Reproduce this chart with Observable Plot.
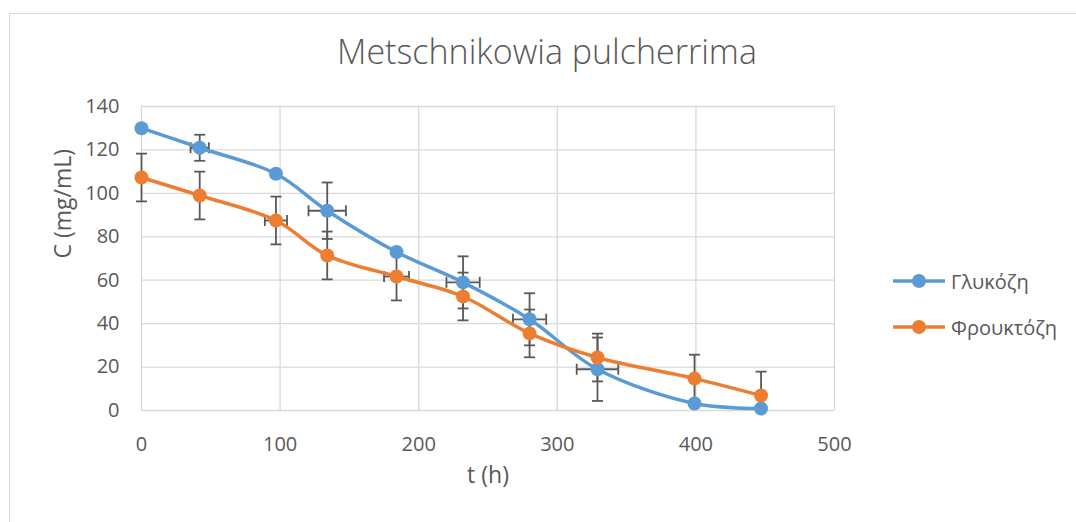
<!DOCTYPE html>
<html>
<head>
<meta charset="utf-8">
<script src="https://cdn.jsdelivr.net/npm/d3@7"></script>
<script src="https://cdn.jsdelivr.net/npm/@observablehq/plot@0.6"></script>
<style>
  body { margin: 0; background: #fff; }
  #wrap { position: relative; width: 1076px; height: 522px; overflow: hidden; font-family: "Open Sans", sans-serif; color: #595959; background: #fff; }
  #frame { position: absolute; left: 9px; top: 13px; width: 1200px; height: 700px; border: 1px solid #d9d9d9; box-sizing: border-box; }
  #chart { position: absolute; left: 0; top: 0; }
  #title { position: absolute; left: 0; width: 1094px; top: 34px; text-align: center; font-size: 34px; line-height: 34px; font-weight: 300; white-space: nowrap; }
  .leg { position: absolute; left: 893px; height: 24px; display: flex; align-items: center; font-size: 20px; white-space: nowrap; }
  .leg svg { margin-right: 6px; }
</style>
</head>
<body>
<div id="wrap">
  <div id="frame"></div>
  <div id="chart"></div>
  <div id="title">Metschnikowia pulcherrima</div>
  <div id="legend"></div>
</div>
<script>
// ---- data ----
const timeH = [0, 42, 97, 134, 184, 232, 280, 329, 399, 447];
const glucose = [130, 121, 109, 92, 73, 59, 42, 19, 3.2, 0.9];
const fructose = [107.3, 99, 87.5, 71.4, 61.7, 52.5, 35.5, 24.4, 14.7, 6.9];
const glucoseErrC = [0, 6, 1.5, 13, 1.5, 12, 12, 14.6, 0.5, 0.5];
const fructoseErrC = [11, 11, 11, 11, 11, 11, 11, 11, 11, 11];
const glucoseErrT = [0, 6.6, 2, 13.5, 2, 12, 12, 15, 0, 0];
const fructoseErrT = [0, 0, 8, 0, 9, 0, 0, 0, 0, 0];
const seriesNames = ["Γλυκόζη", "Φρουκτόζη"];
const seriesColors = ["#5B9BD5", "#ED7D31"];
const xTicks = [0, 100, 200, 300, 400, 500];
const yTicks = [0, 20, 40, 60, 80, 100, 120, 140];
const titleText = "Metschnikowia pulcherrima";
const xLabel = "t (h)";
const yLabel = "C (mg/mL)";

const seriesData = [
  {name: seriesNames[0], color: seriesColors[0], c: glucose, ec: glucoseErrC, et: glucoseErrT},
  {name: seriesNames[1], color: seriesColors[1], c: fructose, ec: fructoseErrC, et: fructoseErrT}
];
const rows = seriesData.flatMap(s => timeH.map((t, i) => ({series: s.name, color: s.color, t, c: s.c[i], ec: s.ec[i], et: s.et[i]})));

const hcap = {draw(ctx, size) { const r = Math.sqrt(size / Math.PI); ctx.moveTo(-r, 0); ctx.lineTo(r, 0); }};
const vcap = {draw(ctx, size) { const r = Math.sqrt(size / Math.PI); ctx.moveTo(0, -r); ctx.lineTo(0, r); }};

const errColor = "#595959";
const vErr = rows.filter(d => d.ec > 0);
const hErr = rows.filter(d => d.et > 0);
const topCaps = vErr.map(d => ({t: d.t, y: d.c + d.ec}));
const botCaps = vErr.filter(d => d.c - d.ec >= 0).map(d => ({t: d.t, y: d.c - d.ec}));
const sideCaps = hErr.flatMap(d => [{x: d.t - d.et, c: d.c}, {x: d.t + d.et, c: d.c}]);

const seriesMarks = seriesData.flatMap(s => {
  const data = rows.filter(d => d.series === s.name);
  return [
    Plot.line(data, {x: "t", y: "c", stroke: s.color, strokeWidth: 3.5, curve: "catmull-rom"}),
    Plot.dot(data, {x: "t", y: "c", fill: s.color, r: 7})
  ];
});

const plot = Plot.plot({
  width: 1076,
  height: 522,
  marginLeft: 141,
  marginRight: 242,
  marginTop: 106,
  marginBottom: 112,
  style: {fontFamily: "'Open Sans', sans-serif", fontSize: "20px", color: "#595959", background: "transparent"},
  x: {domain: [0, 500], ticks: xTicks, tickSize: 0, tickPadding: 26, label: null},
  y: {domain: [0, 140], ticks: yTicks, tickSize: 0, tickPadding: 22, label: null},
  marks: [
    Plot.ruleY(yTicks, {y: d => d, stroke: "#d9d9d9", strokeWidth: 1.3}),
    Plot.ruleX(xTicks, {x: d => d, stroke: "#d9d9d9", strokeWidth: 1.3}),
    Plot.ruleX(vErr, {x: "t", y1: d => Math.max(0, d.c - d.ec), y2: d => d.c + d.ec, stroke: errColor, strokeWidth: 1.8}),
    Plot.dot(topCaps, {x: "t", y: "y", symbol: hcap, r: 5.5, fill: "none", stroke: errColor, strokeWidth: 1.8}),
    Plot.dot(botCaps, {x: "t", y: "y", symbol: hcap, r: 5.5, fill: "none", stroke: errColor, strokeWidth: 1.8}),
    Plot.ruleY(hErr, {y: "c", x1: d => d.t - d.et, x2: d => d.t + d.et, stroke: errColor, strokeWidth: 1.8}),
    Plot.dot(sideCaps, {x: "x", y: "c", symbol: vcap, r: 5.5, fill: "none", stroke: errColor, strokeWidth: 1.8}),
    ...seriesMarks,
    Plot.text([xLabel], {frameAnchor: "bottom", dy: 72, text: d => d, fontSize: 23, fill: "#595959"}),
    Plot.text([yLabel], {frameAnchor: "left", dx: -78, rotate: -90, text: d => d, fontSize: 23, fill: "#595959"})
  ]
});
document.getElementById("chart").appendChild(plot);
document.getElementById("title").textContent = titleText;

const legend = document.getElementById("legend");
seriesData.forEach((s, i) => {
  const div = document.createElement("div");
  div.className = "leg";
  div.style.top = (269 + i * 46) + "px";
  div.innerHTML = `<svg width="52" height="24"><line x1="0" x2="52" y1="12" y2="12" stroke="${s.color}" stroke-width="3.5"/><circle cx="26" cy="12" r="7" fill="${s.color}"/></svg><span>${s.name}</span>`;
  legend.appendChild(div);
});
</script>
</body>
</html>
